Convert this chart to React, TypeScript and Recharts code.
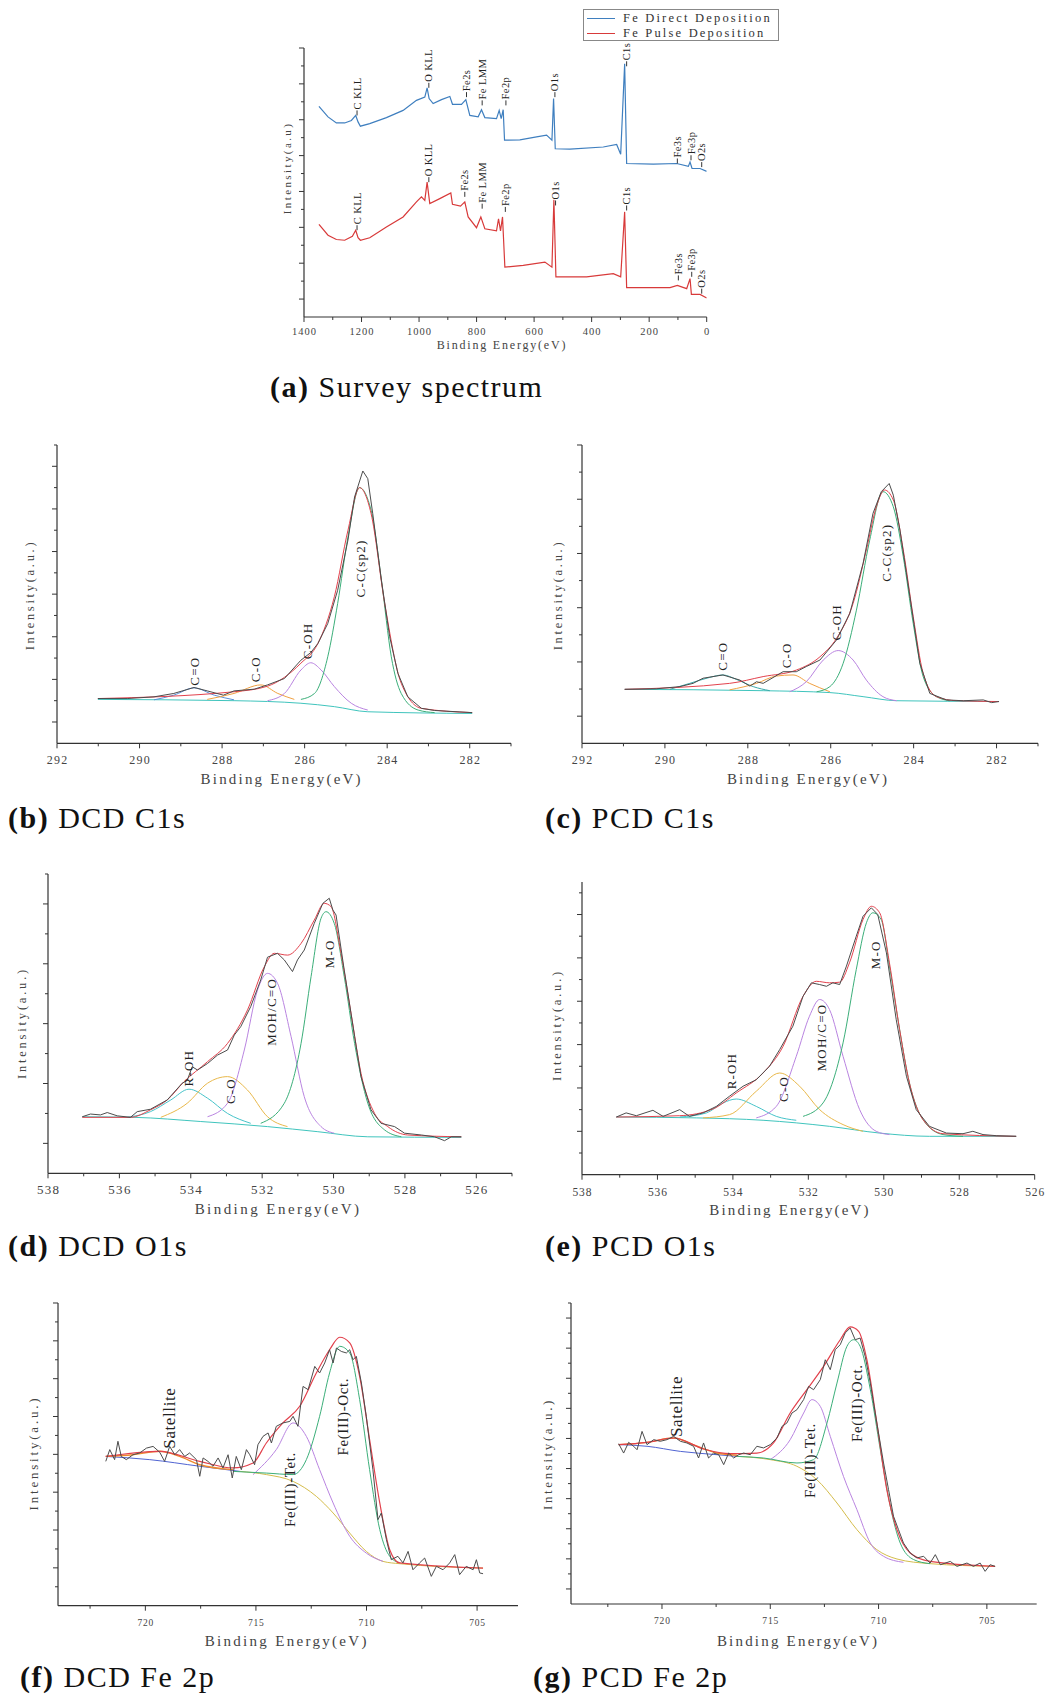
import React from 'react';
import { LineChart, Line, XAxis, YAxis, ReferenceDot } from 'recharts';

type Pt = [number, number];
type Tag = [string, number, number];

const SERIF = '"Liberation Serif", "DejaVu Serif", serif';

// colours
const RAW = '#4b4b4b';
const FIT = '#e2414c';
const GREEN = '#3aae78';
const PURPLE = '#b984e0';
const ORANGE = '#f0a040';
const CYAN = '#45c3c9';
const BASE = '#3fc4bd';
const BLUE = '#5a8fd6';
const TEAL = '#3aa8a8';
const SAT = '#ee8a2e';
const BGBLUE = '#4f63d2';
const BGYEL = '#d4bc4a';

// ---------- (a) survey spectrum ----------
const surveyXLabels = [0, 200, 400, 600, 800, 1000, 1200, 1400];
const surveyXMinor = [100, 300, 500, 700, 900, 1100, 1300];
const surveyYMajor = [0.5, 1.5, 2.5, 3.5, 4.5, 5.5, 6.5, 7.5];
const surveyYMinor = [1, 2, 3, 4, 5, 6, 7];
const legendNames = ['Fe Direct Deposition', 'Fe Pulse Deposition'];

const surveyDirect: Pt[] = [
  [1348, 5.87], [1316.5, 5.58], [1287.5, 5.41], [1258.5, 5.41], [1235.3, 5.48], [1220.2, 5.62],
  [1212.1, 5.44], [1204, 5.32], [1171.5, 5.39], [1113.5, 5.56], [1055.5, 5.76], [1009, 6.04],
  [980, 6.13], [972, 6.39], [965, 6.09], [951, 5.95], [922, 6.06], [893, 6.15], [883.8, 5.93],
  [852.5, 5.93], [837.4, 6.06], [823.5, 5.62], [794.5, 5.58], [782.9, 5.78], [771.3, 5.56],
  [730.7, 5.53], [721.4, 5.76], [714.4, 5.53], [707.5, 5.78], [702.8, 4.93], [649.5, 4.94],
  [591.5, 5.02], [556.7, 5.07], [538, 4.93], [532.3, 6.09], [526.5, 4.69], [475.5, 4.68],
  [359.5, 4.74], [313, 4.81], [299, 4.54], [285.2, 7.06], [278.3, 4.28], [185.5, 4.26],
  [104.3, 4.28], [63.7, 4.2], [57.9, 4.32], [50.9, 4.14], [23.1, 4.14], [0, 4.06],
];
const surveyPulse: Pt[] = [
  [1348, 2.58], [1316.5, 2.28], [1287.5, 2.16], [1258.5, 2.14], [1231.8, 2.25], [1220.2, 2.42],
  [1212.1, 2.21], [1204, 2.14], [1171.5, 2.21], [1113.5, 2.51], [1055.5, 2.79], [1009, 3.21],
  [991.7, 3.35], [980, 3.25], [972, 3.76], [962.7, 3.16], [927.9, 3.3], [889.6, 3.46],
  [883.8, 3.14], [856, 3.09], [840.9, 3.21], [829.3, 2.79], [800.3, 2.49], [785.2, 2.79],
  [771.3, 2.46], [730.7, 2.4], [723.7, 2.74], [716.8, 2.4], [709.8, 2.79], [701.7, 1.39],
  [637.9, 1.44], [562.5, 1.53], [538, 1.39], [531.2, 3.27], [524.2, 1.12], [417.5, 1.12],
  [324.7, 1.21], [299, 1.12], [285.2, 2.93], [278.3, 0.82], [127.5, 0.82], [102, 0.88],
  [69.5, 0.79], [57.9, 1.07], [53.2, 0.63], [23.1, 0.63], [0, 0.53],
];
const surveyDirectTags: Tag[] = [
  ['C KLL', 1215.6, 5.62], ['O KLL', 966, 6.39], ['Fe2s', 835, 6.13], ['Fe LMM', 780.6, 5.9],
  ['Fe2p', 698, 5.9], ['O1s', 527.7, 6.13], ['C1s', 278.3, 6.99], ['Fe3s', 102, 4.28],
  ['Fe3p', 54.5, 4.37], ['O2s', 17.3, 4.18],
];
const surveyPulseTags: Tag[] = [
  ['C KLL', 1215.6, 2.42], ['O KLL', 966, 3.76], ['Fe2s', 841, 3.35], ['Fe LMM', 780.6, 3.02],
  ['Fe2p', 700, 2.93], ['O1s', 525.4, 3.11], ['C1s', 278.3, 2.97], ['Fe3s', 98.5, 1.02],
  ['Fe3p', 52, 1.12], ['O2s', 17.3, 0.65],
];

// ---------- C1s ----------
const c1sXLabels = [282, 284, 286, 288, 290, 292];
const c1sXMinor = [281, 283, 285, 287, 289, 291];
const dcdC1sYMajor = [0.5, 1.5, 2.5, 3.5, 4.5, 5.5, 6.5];
const dcdC1sYMinor = [1, 2, 3, 4, 5, 6, 7];
const pcdC1sYMajor = [1, 3, 5, 7, 9, 11];
const pcdC1sYMinor = [2, 4, 6, 8, 10];
const c1sTagNames = ['C=O', 'C-O', 'C-OH', 'C-C(sp2)'];

const dcdC1sRaw: Pt[] = [
  [291.01, 1.05], [290.3, 1.05], [289.65, 1.09], [289.17, 1.17], [288.68, 1.31], [288.36, 1.23],
  [287.97, 1.13], [287.71, 1.23], [287.22, 1.27], [286.9, 1.37], [286.49, 1.52], [286.09, 1.95],
  [285.85, 2.13], [285.68, 2.34], [285.44, 2.81], [285.2, 3.59], [284.95, 4.77], [284.79, 5.78],
  [284.59, 6.39], [284.47, 6.21], [284.35, 5.39], [284.14, 3.83], [283.94, 2.5], [283.74, 1.64],
  [283.5, 1.09], [283.17, 0.82], [282.85, 0.77], [281.94, 0.72],
];
const dcdC1sEnv: Pt[] = [
  [291.01, 1.05], [287.71, 1.21], [286.9, 1.34], [286.09, 1.88], [285.68, 2.34], [285.28, 3.44],
  [284.95, 5.0], [284.67, 6.0], [284.39, 5.39], [284.06, 3.28], [283.66, 1.41], [283.17, 0.82],
  [281.94, 0.72],
];
const dcdC1sCC: Pt[] = [
  [286.09, 1.03], [285.76, 1.17], [285.44, 2.03], [285.2, 3.28], [284.95, 4.84], [284.67, 6.0],
  [284.39, 5.47], [284.14, 3.83], [283.9, 2.03], [283.66, 1.17], [283.25, 0.78], [282.85, 0.72],
];
const dcdC1sCOH: Pt[] = [
  [286.9, 1.0], [286.49, 1.17], [286.09, 1.72], [285.85, 1.89], [285.6, 1.72], [285.28, 1.33],
  [284.87, 0.94], [284.47, 0.78],
];
const dcdC1sCO: Pt[] = [[288.36, 1.03], [287.71, 1.17], [287.06, 1.37], [286.65, 1.17], [286.25, 1.03]];
const dcdC1sCdO: Pt[] = [[289.65, 1.02], [289.17, 1.13], [288.68, 1.3], [288.19, 1.13], [287.71, 1.02]];
const dcdC1sBase: Pt[] = [[291.01, 1.03], [287.71, 1.0], [286.09, 0.94], [285.28, 0.86], [284.47, 0.74], [281.94, 0.7]];
const dcdC1sTagPos: Pt[] = [[288.68, 1.33], [287.18, 1.41], [285.94, 1.95], [284.65, 3.4]];

const pcdC1sRaw: Pt[] = [
  [290.97, 1.99], [290.21, 2.01], [289.64, 2.09], [289.32, 2.21], [289.08, 2.4], [288.6, 2.52],
  [288.19, 2.33], [287.95, 2.11], [287.79, 2.27], [287.63, 2.21], [287.15, 2.64], [286.83, 2.64],
  [286.59, 2.83], [286.26, 3.07], [285.86, 3.81], [285.54, 4.79], [285.22, 6.63], [284.98, 8.48],
  [284.78, 9.28], [284.59, 9.58], [284.49, 9.15], [284.33, 7.86], [284.09, 5.41], [283.85, 2.95],
  [283.61, 1.84], [283.21, 1.6], [282.8, 1.57], [282.32, 1.6], [282.12, 1.5], [281.94, 1.54],
];
const pcdC1sEnv: Pt[] = [
  [290.97, 1.99], [288.44, 2.21], [287.63, 2.46], [286.83, 2.7], [286.26, 3.19], [285.86, 3.87],
  [285.46, 5.16], [285.14, 7.13], [284.9, 8.72], [284.7, 9.34], [284.49, 8.97], [284.25, 7.13],
  [284.01, 4.67], [283.77, 2.58], [283.45, 1.72], [282.97, 1.57], [281.94, 1.54],
];
const pcdC1sCC: Pt[] = [
  [286.34, 1.9], [286.02, 2.09], [285.7, 2.95], [285.38, 4.91], [285.06, 7.49], [284.74, 9.28],
  [284.49, 8.72], [284.25, 6.88], [284.01, 4.42], [283.77, 2.46], [283.45, 1.72], [283.13, 1.57],
];
const pcdC1sCOH: Pt[] = [
  [286.99, 1.9], [286.59, 2.27], [286.18, 3.07], [285.82, 3.42], [285.46, 3.07], [285.14, 2.33],
  [284.74, 1.72], [284.41, 1.57],
];
const pcdC1sCO: Pt[] = [[288.44, 1.97], [287.79, 2.21], [287.31, 2.48], [286.91, 2.52], [286.51, 2.21], [286.02, 1.9]];
const pcdC1sCdO: Pt[] = [
  [289.88, 1.99], [289.4, 2.21], [288.92, 2.43], [288.6, 2.52], [288.28, 2.36], [287.87, 2.09], [287.47, 1.94],
];
const pcdC1sBase: Pt[] = [[290.97, 1.99], [287.63, 1.94], [286.02, 1.87], [285.22, 1.72], [284.41, 1.57], [281.94, 1.54]];
const pcdC1sTagPos: Pt[] = [[288.61, 2.64], [287.07, 2.73], [285.85, 3.75], [284.65, 5.92]];

// ---------- O1s ----------
const dcdO1sXLabels = [526, 528, 530, 532, 534, 536, 538];
const dcdO1sXMinor = [525, 527, 529, 531, 533, 535, 537];
const pcdO1sXLabels = [526, 528, 530, 532, 534, 536, 538];
const pcdO1sXMinor = [527, 529, 531, 533, 535, 537];
const dcdO1sYMajor = [1, 3, 5, 7, 9];
const dcdO1sYMinor = [2, 4, 6, 8, 10];
const pcdO1sYMajor = [2, 4, 6, 8, 10, 12];
const pcdO1sYMinor = [1, 3, 5, 7, 9, 11, 13];
const o1sTagNames = ['R-OH', 'C-O', 'MOH/C=O', 'M-O'];

const dcdO1sRaw: Pt[] = [
  [537.04, 1.89], [536.81, 1.98], [536.53, 1.95], [536.34, 2.03], [536.06, 1.92], [535.69, 1.87],
  [535.5, 2.06], [535.13, 2.14], [534.66, 2.45], [534.24, 3.01], [534.1, 3.1], [533.96, 3.56],
  [533.81, 3.45], [533.53, 3.67], [533.25, 3.95], [532.97, 4.12], [532.78, 4.62], [532.6, 4.9],
  [532.32, 5.57], [532.04, 6.46], [531.85, 7.22], [531.57, 7.35], [531.38, 7.13], [531.15, 6.74],
  [531.01, 7.13], [530.82, 7.46], [530.54, 8.35], [530.3, 9.02], [530.12, 9.19], [530.02, 8.8],
  [529.93, 8.63], [529.7, 6.79], [529.41, 4.57], [529.23, 3.23], [528.95, 2.12], [528.67, 1.67],
  [528.29, 1.56], [528.01, 1.34], [527.54, 1.28], [527.17, 1.22], [526.89, 1.09], [526.7, 1.22],
  [526.42, 1.22],
];
const dcdO1sEnv: Pt[] = [
  [537.04, 1.87], [535.69, 1.87], [535.13, 2.12], [534.66, 2.45], [534.19, 3.06], [533.53, 3.73],
  [532.97, 4.34], [532.41, 5.46], [531.94, 6.9], [531.66, 7.35], [531.29, 7.29], [530.91, 7.68],
  [530.54, 8.46], [530.26, 9.02], [530.07, 8.91], [529.79, 7.35], [529.51, 5.35], [529.23, 3.34],
  [528.85, 2.0], [528.48, 1.56], [527.92, 1.28], [526.42, 1.22],
];
const dcdO1sMO: Pt[] = [
  [532.04, 1.67], [531.38, 2.34], [530.91, 4.34], [530.63, 6.57], [530.35, 8.52], [530.21, 8.74],
  [529.98, 8.35], [529.7, 6.57], [529.41, 4.34], [529.04, 2.34], [528.57, 1.45], [528.1, 1.22],
];
const dcdO1sMOH: Pt[] = [
  [533.53, 1.89], [532.97, 2.34], [532.5, 4.12], [532.13, 6.12], [531.85, 6.68], [531.57, 6.35],
  [531.19, 4.57], [530.82, 2.56], [530.35, 1.56], [529.98, 1.34],
];
const dcdO1sCO: Pt[] = [
  [534.84, 1.87], [534.1, 2.34], [533.53, 3.01], [532.97, 3.23], [532.41, 2.78], [531.85, 1.89], [531.29, 1.56],
];
const dcdO1sROH: Pt[] = [
  [535.78, 1.87], [535.13, 2.06], [534.56, 2.45], [534.05, 2.81], [533.53, 2.51], [532.97, 2.0], [532.32, 1.67],
];
const dcdO1sBase: Pt[] = [
  [537.04, 1.89], [535.59, 1.87], [533.72, 1.73], [531.85, 1.56], [530.44, 1.39], [529.04, 1.22], [526.42, 1.2],
];
const dcdO1sTagPos: Pt[] = [[534.05, 2.87], [532.9, 2.28], [531.74, 4.23], [530.12, 6.82]];

const pcdO1sRaw: Pt[] = [
  [537.09, 2.66], [536.83, 2.85], [536.56, 2.72], [536.12, 2.97], [535.85, 2.69], [535.41, 3.0],
  [535.15, 2.69], [534.79, 2.85], [534.44, 3.15], [534.09, 3.62], [533.73, 4.08], [533.38, 4.38],
  [533.03, 5.0], [532.76, 5.77], [532.41, 6.85], [532.14, 8.23], [531.92, 8.85], [531.7, 8.77],
  [531.52, 8.69], [531.35, 8.85], [531.17, 8.77], [530.99, 9.62], [530.73, 11.0], [530.55, 11.92],
  [530.33, 12.31], [530.16, 12.0], [529.93, 10.23], [529.67, 7.15], [529.4, 4.54], [529.14, 3.0],
  [528.79, 2.23], [528.34, 1.92], [527.9, 1.89], [527.64, 2.0], [527.37, 1.85], [527.02, 1.8],
  [526.49, 1.77],
];
const pcdO1sEnv: Pt[] = [
  [537.09, 2.66], [535.41, 2.72], [534.53, 3.03], [533.91, 3.77], [533.2, 4.69], [532.67, 5.92],
  [532.14, 8.23], [531.79, 8.92], [531.44, 8.85], [531.17, 8.88], [530.91, 9.77], [530.55, 11.77],
  [530.33, 12.38], [530.11, 12.08], [529.85, 9.77], [529.58, 6.69], [529.32, 4.23], [528.96, 2.54],
  [528.43, 1.89], [526.49, 1.77],
];
const pcdO1sMO: Pt[] = [
  [532.14, 2.69], [531.61, 3.31], [531.08, 6.08], [530.73, 9.46], [530.46, 11.62], [530.29, 12.08],
  [530.07, 11.77], [529.85, 9.62], [529.58, 6.69], [529.32, 4.23], [528.96, 2.54], [528.43, 1.85],
  [527.9, 1.77],
];
const pcdO1sMOH: Pt[] = [
  [533.38, 2.62], [532.85, 3.15], [532.32, 5.46], [531.97, 7.31], [531.7, 8.08], [531.44, 7.62],
  [531.08, 5.46], [530.64, 3.0], [530.2, 2.0], [529.85, 1.85],
];
const pcdO1sCO: Pt[] = [
  [534.79, 2.62], [534.09, 2.77], [533.38, 3.85], [532.76, 4.69], [532.23, 4.08], [531.7, 3.0],
  [531.08, 2.31], [530.55, 2.0],
];
const pcdO1sROH: Pt[] = [
  [535.41, 2.66], [534.7, 2.85], [534.26, 3.31], [533.91, 3.49], [533.38, 3.15], [532.85, 2.69], [532.32, 2.51],
];
const pcdO1sBase: Pt[] = [
  [537.09, 2.66], [534.97, 2.62], [533.2, 2.51], [531.44, 2.23], [530.11, 1.92], [528.79, 1.77], [526.49, 1.77],
];
const pcdO1sTagPos: Pt[] = [[534.04, 3.89], [532.66, 3.31], [531.64, 4.72], [530.22, 9.43]];

// ---------- Fe 2p ----------
const fe2pXLabels = [705, 710, 715, 720];
const fe2pXMinor = [707.5, 712.5, 717.5, 722.5];
const dcdFeYMajor = [2, 4, 6, 8, 10, 12, 14, 16];
const dcdFeYMinor = [1, 3, 5, 7, 9, 11, 13, 15];
const pcdFeYMajor = [1, 3, 5, 7, 9, 11, 13, 15, 17, 19];
const pcdFeYMinor = [2, 4, 6, 8, 10, 12, 14, 16, 18, 20];
const feTagNames = ['Satellite', 'Fe(III)-Tet.', 'Fe(III)-Oct.'];

const dcdFeRaw: Pt[] = [
  [721.79, 7.63], [721.61, 8.25], [721.39, 7.72], [721.24, 8.69], [721.09, 7.89], [720.86, 7.72],
  [720.56, 7.98], [720.26, 8.07], [719.95, 8.33], [719.65, 8.42], [719.35, 8.11], [719.13, 7.63],
  [718.9, 8.42], [718.67, 7.98], [718.45, 8.25], [718.22, 7.89], [718.0, 8.07], [717.69, 7.72],
  [717.54, 6.84], [717.39, 7.81], [717.17, 7.63], [716.94, 7.37], [716.71, 7.81], [716.49, 7.28],
  [716.26, 7.98], [716.07, 6.75], [715.89, 7.89], [715.66, 7.19], [715.43, 8.25], [715.28, 7.98],
  [715.06, 7.45], [714.91, 8.51], [714.68, 8.95], [714.45, 9.13], [714.3, 8.6], [714.08, 9.48],
  [713.78, 9.66], [713.47, 9.74], [713.32, 10.01], [713.1, 9.48], [712.87, 11.59], [712.64, 11.42],
  [712.34, 12.65], [712.12, 12.3], [711.89, 12.83], [711.67, 13.53], [711.51, 12.83], [711.36, 13.62],
  [711.14, 13.44], [710.91, 13.36], [710.76, 13.53], [710.61, 13.0], [710.46, 13.18], [710.23, 11.77],
  [710.01, 10.01], [709.71, 7.19], [709.48, 4.55], [709.33, 4.9], [709.1, 3.49], [708.88, 2.43],
  [708.58, 2.61], [708.35, 2.26], [708.12, 2.87], [707.9, 1.9], [707.6, 2.26], [707.37, 2.52],
  [707.07, 1.55], [706.84, 2.08], [706.54, 1.9], [706.24, 2.26], [706.01, 2.7], [705.79, 1.64],
  [705.49, 2.08], [705.18, 1.9], [705.03, 2.43], [704.88, 1.73], [704.73, 1.69],
];
const dcdFeEnv: Pt[] = [
  [721.79, 7.89], [719.35, 8.16], [717.54, 7.63], [716.04, 7.28], [715.13, 7.54], [714.53, 8.6],
  [713.78, 9.66], [713.02, 10.54], [712.27, 12.3], [711.67, 13.53], [711.21, 14.19], [710.76, 13.89],
  [710.31, 12.12], [709.86, 8.78], [709.4, 5.43], [708.95, 2.96], [708.5, 2.26], [704.73, 1.99],
];
const dcdFeSat: Pt[] = [[721.79, 7.89], [720.56, 7.98], [719.35, 8.16], [718.45, 7.89], [717.54, 7.45], [716.04, 7.19]];
const dcdFeBase: Pt[] = [[721.79, 7.89], [719.8, 7.72], [717.54, 7.37], [715.73, 7.1]];
const dcdFeOct: Pt[] = [
  [716.04, 7.1], [714.53, 7.01], [713.32, 6.93], [712.72, 7.72], [712.12, 10.01], [711.67, 12.3],
  [711.21, 13.71], [710.76, 13.36], [710.31, 10.89], [709.86, 7.19], [709.4, 4.02], [708.95, 2.61],
  [708.5, 2.26],
];
const dcdFeTet: Pt[] = [
  [715.13, 6.93], [714.08, 8.25], [713.32, 9.66], [712.72, 8.95], [712.12, 7.19], [711.51, 5.43],
  [710.76, 3.67], [710.01, 2.78], [709.25, 2.34],
];
const dcdFeBg: Pt[] = [
  [715.73, 7.1], [714.53, 6.93], [713.32, 6.57], [712.27, 5.78], [711.51, 4.9], [710.76, 3.84],
  [710.01, 2.87], [709.25, 2.34], [708.5, 2.22], [704.73, 1.99],
];
const dcdFeTagPos: Pt[] = [[718.93, 8.25], [713.47, 4.11], [711.06, 7.89]];

const pcdFeRaw: Pt[] = [
  [722.0, 10.65], [721.77, 10.03], [721.54, 10.74], [721.31, 10.48], [721.15, 10.25], [720.92, 11.47],
  [720.69, 10.59], [720.38, 10.92], [720.08, 10.81], [719.77, 10.92], [719.46, 11.14], [719.15, 10.81],
  [718.85, 10.7], [718.54, 10.48], [718.31, 9.7], [718.08, 10.7], [717.85, 9.7], [717.62, 10.03],
  [717.38, 9.92], [717.15, 9.26], [716.92, 10.03], [716.69, 9.7], [716.46, 9.92], [716.23, 10.03],
  [715.92, 9.92], [715.62, 10.48], [715.31, 10.37], [715.0, 10.59], [714.69, 11.03], [714.46, 11.8],
  [714.23, 12.03], [714.0, 12.69], [713.77, 12.91], [713.46, 13.58], [713.23, 14.46], [713.0, 14.24],
  [712.69, 14.91], [712.46, 16.23], [712.23, 15.57], [712.0, 16.9], [711.77, 17.23], [711.54, 18.01],
  [711.31, 18.34], [711.08, 17.56], [710.85, 17.67], [710.62, 16.46], [710.38, 14.68], [710.08, 12.03],
  [709.77, 9.37], [709.54, 7.6], [709.31, 5.83], [709.08, 4.94], [708.85, 4.05], [708.54, 3.39],
  [708.23, 3.06], [707.92, 3.17], [707.62, 2.72], [707.38, 3.28], [707.15, 2.61], [706.69, 2.83],
  [706.38, 2.5], [705.92, 2.72], [705.62, 2.5], [705.31, 2.72], [705.08, 2.17], [704.85, 2.61],
  [704.62, 2.5],
];
const pcdFeEnv: Pt[] = [
  [722.0, 10.59], [720.69, 10.74], [719.46, 11.03], [718.08, 10.3], [716.85, 9.99], [715.62, 10.03],
  [714.85, 10.7], [714.08, 12.69], [713.31, 14.24], [712.54, 15.79], [711.77, 17.56], [711.31, 18.41],
  [710.92, 18.12], [710.54, 16.23], [710.08, 12.03], [709.62, 7.6], [709.15, 4.94], [708.54, 3.39],
  [707.62, 2.83], [704.62, 2.5],
];
const pcdFeSat: Pt[] = [[722.0, 10.59], [720.69, 10.74], [719.46, 11.03], [718.38, 10.48], [717.46, 10.03], [716.54, 9.88]];
const pcdFeBase: Pt[] = [[722.0, 10.59], [720.69, 10.48], [719.15, 10.14], [717.46, 9.92], [716.54, 9.81]];
const pcdFeOct: Pt[] = [
  [716.54, 9.81], [715.31, 9.7], [713.77, 9.37], [713.0, 9.59], [712.38, 12.03], [711.92, 14.68],
  [711.46, 17.12], [711.15, 17.56], [710.85, 17.12], [710.38, 14.24], [709.92, 10.25], [709.46, 6.49],
  [709.0, 4.05], [708.38, 2.95], [707.62, 2.68],
];
const pcdFeTet: Pt[] = [
  [715.0, 9.59], [714.08, 10.92], [713.46, 12.69], [713.08, 13.58], [712.69, 13.13], [712.23, 11.14],
  [711.62, 8.48], [711.0, 6.27], [710.38, 4.05], [709.77, 3.17], [708.85, 2.77],
];
const pcdFeBg: Pt[] = [
  [716.54, 9.81], [715.0, 9.59], [713.77, 9.15], [712.85, 8.26], [711.92, 6.71], [711.0, 4.94],
  [710.08, 3.61], [709.15, 2.99], [707.62, 2.68], [704.62, 2.5],
];
const pcdFeTagPos: Pt[] = [[719.31, 11.03], [713.15, 6.98], [711.0, 10.7]];

// ---------- helpers ----------
interface Series { data: Pt[]; color: string; width?: number; curve?: 'monotone' | 'linear' }
interface TagStyle { size: number; lead: number; spacing: number; sizes?: number[] }
interface PanelSpec {
  box: [number, number, number, number];
  xDomain: [number, number];
  yDomain: [number, number];
  xLabels: number[];
  xMinor: number[];
  yMajor: number[];
  yMinor: number[];
  tickFont: number;
  tickSpacing: number;
  tickDy: number;
  series: Series[];
  tags: Tag[];
  tagStyle: TagStyle;
}

const zipTags = (names: string[], pos: Pt[]): Tag[] => names.map((n, i) => [n, pos[i][0], pos[i][1]]);

const makeXTick = (labels: number[], fontSize: number, spacing: number, dy: number) => (p: any) => {
  const v = p.payload.value;
  const major = labels.includes(v);
  return (
    <g>
      <line x1={p.x} y1={p.y} x2={p.x} y2={p.y + (major ? 5 : 3)} stroke="#333" />
      {major && (
        <text x={p.x + spacing / 2} y={p.y + dy} textAnchor="middle" dominantBaseline="central"
          fontSize={fontSize} fontFamily={SERIF} letterSpacing={spacing} fill="#444">{v}</text>
      )}
    </g>
  );
};

const makeYTick = (majors: number[]) => (p: any) => {
  const major = majors.includes(p.payload.value);
  return <line x1={p.x} y1={p.y} x2={p.x - (major ? 5 : 3)} y2={p.y} stroke="#333" />;
};

const tagShape = (text: string, st: TagStyle, idx: number) => (p: any) => {
  const { cx, cy } = p;
  const y0 = cy - st.lead - 1;
  const size = st.sizes ? st.sizes[idx] : st.size;
  return (
    <g>
      {st.lead > 0 && <line x1={cx} y1={cy} x2={cx} y2={cy - st.lead} stroke="#333" />}
      <text x={cx} y={y0} transform={`rotate(-90 ${cx} ${y0})`} textAnchor="start"
        dominantBaseline="central" fontSize={size} fontFamily={SERIF}
        letterSpacing={st.spacing} fill="#222">{text}</text>
    </g>
  );
};

function Panel({ spec }: { spec: PanelSpec }) {
  const [L, R, T, B] = spec.box;
  const width = R - L + 70;
  const height = B - T + 60;
  return (
    <div style={{ position: 'absolute', left: L - 60, top: T - 10 }}>
      <LineChart width={width} height={height} margin={{ top: 10, right: 10, bottom: 0, left: 0 }}>
        <XAxis type="number" dataKey="x" domain={spec.xDomain} reversed allowDataOverflow
          ticks={[...spec.xLabels, ...spec.xMinor]} interval={0} height={50}
          tickSize={0} tickMargin={0} tickLine={false}
          axisLine={{ stroke: '#333', strokeWidth: 1.2 }}
          tick={makeXTick(spec.xLabels, spec.tickFont, spec.tickSpacing, spec.tickDy)} />
        <YAxis type="number" domain={spec.yDomain} allowDataOverflow width={60}
          ticks={[...spec.yMajor, ...spec.yMinor]} interval={0}
          tickSize={0} tickMargin={0} tickLine={false}
          axisLine={{ stroke: '#333', strokeWidth: 1.2 }}
          tick={makeYTick(spec.yMajor)} />
        {spec.series.map((s, i) => (
          <Line key={i} data={s.data.map(([x, y]) => ({ x, y }))} dataKey="y"
            type={s.curve ?? 'monotone'} stroke={s.color} strokeWidth={s.width ?? 1}
            dot={false} activeDot={false} isAnimationActive={false} />
        ))}
        {spec.tags.map(([t, x, y], i) => (
          <ReferenceDot key={'t' + i} x={x} y={y} r={0} shape={tagShape(t, spec.tagStyle, i)} />
        ))}
      </LineChart>
    </div>
  );
}

const fitTag: TagStyle = { size: 13, lead: 0, spacing: 1.2 };
const feTag: TagStyle = { size: 15, lead: 0, sizes: [17, 15, 15], spacing: 0.6 };

const panels: PanelSpec[] = [
  {
    box: [304, 706.7, 47.7, 316.7], xDomain: [0, 1400], yDomain: [0, 7.5],
    xLabels: surveyXLabels, xMinor: surveyXMinor, yMajor: surveyYMajor, yMinor: surveyYMinor,
    tickFont: 10.5, tickSpacing: 1, tickDy: 15,
    series: [
      { data: surveyDirect, color: '#3f7fbf', width: 1.2, curve: 'linear' },
      { data: surveyPulse, color: '#d83a3a', width: 1.2, curve: 'linear' },
    ],
    tags: [...surveyDirectTags, ...surveyPulseTags],
    tagStyle: { size: 10.5, lead: 5, spacing: 0.4 },
  },
  {
    box: [56.7, 510.7, 445, 743.3], xDomain: [281, 292], yDomain: [0, 7],
    xLabels: c1sXLabels, xMinor: c1sXMinor, yMajor: dcdC1sYMajor, yMinor: dcdC1sYMinor,
    tickFont: 12, tickSpacing: 1.2, tickDy: 16.7,
    series: [
      { data: dcdC1sBase, color: BASE }, { data: dcdC1sCdO, color: BLUE }, { data: dcdC1sCO, color: ORANGE },
      { data: dcdC1sCOH, color: PURPLE }, { data: dcdC1sCC, color: GREEN },
      { data: dcdC1sEnv, color: FIT }, { data: dcdC1sRaw, color: RAW, curve: 'linear' },
    ],
    tags: zipTags(c1sTagNames, dcdC1sTagPos), tagStyle: fitTag,
  },
  {
    box: [582.3, 1038.3, 445, 743.3], xDomain: [281, 292], yDomain: [0, 11],
    xLabels: c1sXLabels, xMinor: c1sXMinor, yMajor: pcdC1sYMajor, yMinor: pcdC1sYMinor,
    tickFont: 12, tickSpacing: 1.2, tickDy: 16.7,
    series: [
      { data: pcdC1sBase, color: BASE }, { data: pcdC1sCdO, color: TEAL }, { data: pcdC1sCO, color: ORANGE },
      { data: pcdC1sCOH, color: PURPLE }, { data: pcdC1sCC, color: GREEN },
      { data: pcdC1sEnv, color: FIT }, { data: pcdC1sRaw, color: RAW, curve: 'linear' },
    ],
    tags: zipTags(c1sTagNames, pcdC1sTagPos), tagStyle: fitTag,
  },
  {
    box: [47.7, 511.7, 874, 1173.3], xDomain: [525, 538], yDomain: [0, 10],
    xLabels: dcdO1sXLabels, xMinor: dcdO1sXMinor, yMajor: dcdO1sYMajor, yMinor: dcdO1sYMinor,
    tickFont: 13, tickSpacing: 1.3, tickDy: 16.7,
    series: [
      { data: dcdO1sBase, color: BASE }, { data: dcdO1sROH, color: CYAN }, { data: dcdO1sCO, color: '#e8b84a' },
      { data: dcdO1sMOH, color: PURPLE }, { data: dcdO1sMO, color: GREEN },
      { data: dcdO1sEnv, color: FIT }, { data: dcdO1sRaw, color: RAW, curve: 'linear' },
    ],
    tags: zipTags(o1sTagNames, dcdO1sTagPos), tagStyle: fitTag,
  },
  {
    box: [582.3, 1035, 882.3, 1175], xDomain: [526, 538], yDomain: [0, 13.5],
    xLabels: pcdO1sXLabels, xMinor: pcdO1sXMinor, yMajor: pcdO1sYMajor, yMinor: pcdO1sYMinor,
    tickFont: 11.5, tickSpacing: 0.9, tickDy: 17.7,
    series: [
      { data: pcdO1sBase, color: BASE }, { data: pcdO1sROH, color: CYAN }, { data: pcdO1sCO, color: '#e8b84a' },
      { data: pcdO1sMOH, color: PURPLE }, { data: pcdO1sMO, color: GREEN },
      { data: pcdO1sEnv, color: FIT }, { data: pcdO1sRaw, color: RAW, curve: 'linear' },
    ],
    tags: zipTags(o1sTagNames, pcdO1sTagPos), tagStyle: fitTag,
  },
  {
    box: [58.3, 518.3, 1303.3, 1606], xDomain: [703.15, 723.95], yDomain: [0, 16],
    xLabels: fe2pXLabels, xMinor: fe2pXMinor, yMajor: dcdFeYMajor, yMinor: dcdFeYMinor,
    tickFont: 9.5, tickSpacing: 0.8, tickDy: 17.3,
    series: [
      { data: dcdFeBase, color: BGBLUE }, { data: dcdFeBg, color: BGYEL }, { data: dcdFeSat, color: SAT, width: 1.4 },
      { data: dcdFeTet, color: PURPLE }, { data: dcdFeOct, color: GREEN },
      { data: dcdFeEnv, color: FIT, width: 1.2 }, { data: dcdFeRaw, color: RAW, curve: 'linear' },
    ],
    tags: zipTags(feTagNames, dcdFeTagPos), tagStyle: feTag,
  },
  {
    box: [571, 1036.7, 1303.3, 1604.3], xDomain: [702.7, 724.2], yDomain: [0, 20],
    xLabels: fe2pXLabels, xMinor: fe2pXMinor, yMajor: pcdFeYMajor, yMinor: pcdFeYMinor,
    tickFont: 9.5, tickSpacing: 0.8, tickDy: 17.4,
    series: [
      { data: pcdFeBase, color: BGBLUE }, { data: pcdFeBg, color: BGYEL }, { data: pcdFeSat, color: SAT, width: 1.4 },
      { data: pcdFeTet, color: PURPLE }, { data: pcdFeOct, color: GREEN },
      { data: pcdFeEnv, color: FIT, width: 1.2 }, { data: pcdFeRaw, color: RAW, curve: 'linear' },
    ],
    tags: zipTags(feTagNames, pcdFeTagPos), tagStyle: feTag,
  },
];

// axis titles: [text, centre x, centre y, size, letter spacing, rotated]
const axisTitles: [string, number, number, number, number, boolean][] = [
  ['Binding Energy(eV)', 502, 345, 12, 1.8, false], ['Intensity(a.u)', 286.7, 168, 11, 2.4, true],
  ['Binding Energy(eV)', 281.7, 779, 15, 2.2, false], ['Intensity(a.u.)', 30, 595, 12.5, 2.7, true],
  ['Binding Energy(eV)', 808, 779, 15, 2.2, false], ['Intensity(a.u.)', 558, 595, 12.5, 2.7, true],
  ['Binding Energy(eV)', 278, 1209, 15, 2.45, false], ['Intensity(a.u.)', 21.7, 1023, 12.5, 2.8, true],
  ['Binding Energy(eV)', 790, 1210, 15, 2.15, false], ['Intensity(a.u.)', 556.7, 1025, 12.5, 2.8, true],
  ['Binding Energy(eV)', 286.7, 1640.7, 15, 2.3, false], ['Intensity(a.u.)', 33.3, 1453, 13, 2.8, true],
  ['Binding Energy(eV)', 798, 1640.7, 15, 2.2, false], ['Intensity(a.u.)', 546.7, 1454, 13, 2.6, true],
];

// captions: [letter, text, left, centre y]
const captions: [string, string, number, number][] = [
  ['(a)', 'Survey spectrum', 270, 387],
  ['(b)', 'DCD C1s', 8, 818], ['(c)', 'PCD C1s', 545, 818],
  ['(d)', 'DCD O1s', 8, 1246], ['(e)', 'PCD O1s', 545, 1246],
  ['(f)', 'DCD Fe 2p', 20, 1677], ['(g)', 'PCD Fe 2p', 533, 1677],
];

export default function App() {
  return (
    <div style={{ position: 'absolute', left: 0, top: 0, width: 1057, height: 1697, background: '#fff', overflow: 'hidden' }}>
      {panels.map((p, i) => <Panel key={i} spec={p} />)}

      {/* survey legend */}
      <div style={{ position: 'absolute', left: 583, top: 9, width: 196, height: 32, border: '1px solid #888', boxSizing: 'border-box' }}>
        {legendNames.map((n, i) => (
          <div key={n} style={{ position: 'absolute', left: 3, top: 1 + i * 15, height: 14, display: 'flex', alignItems: 'center' }}>
            <div style={{ width: 28, height: 0, borderTop: `1.5px solid ${i === 0 ? '#3f7fbf' : '#d83a3a'}` }} />
            <span style={{ marginLeft: 8, fontFamily: SERIF, fontSize: 12.5, letterSpacing: 2.2, color: '#333', whiteSpace: 'nowrap' }}>{n}</span>
          </div>
        ))}
      </div>

      {axisTitles.map(([t, x, y, s, ls, rot], i) => (
        <div key={i} style={{
          position: 'absolute', left: x, top: y, transform: `translate(-50%, -50%)${rot ? ' rotate(-90deg)' : ''}`,
          fontFamily: SERIF, fontSize: s, letterSpacing: ls, color: '#444', whiteSpace: 'nowrap', lineHeight: 1,
        }}>{t}</div>
      ))}

      {captions.map(([l, t, x, y]) => (
        <div key={l} style={{
          position: 'absolute', left: x, top: y - 16, fontFamily: SERIF, fontSize: 30, lineHeight: '32px',
          letterSpacing: 1.5, color: '#111', whiteSpace: 'nowrap',
        }}><b>{l}</b> {t}</div>
      ))}
    </div>
  );
}
